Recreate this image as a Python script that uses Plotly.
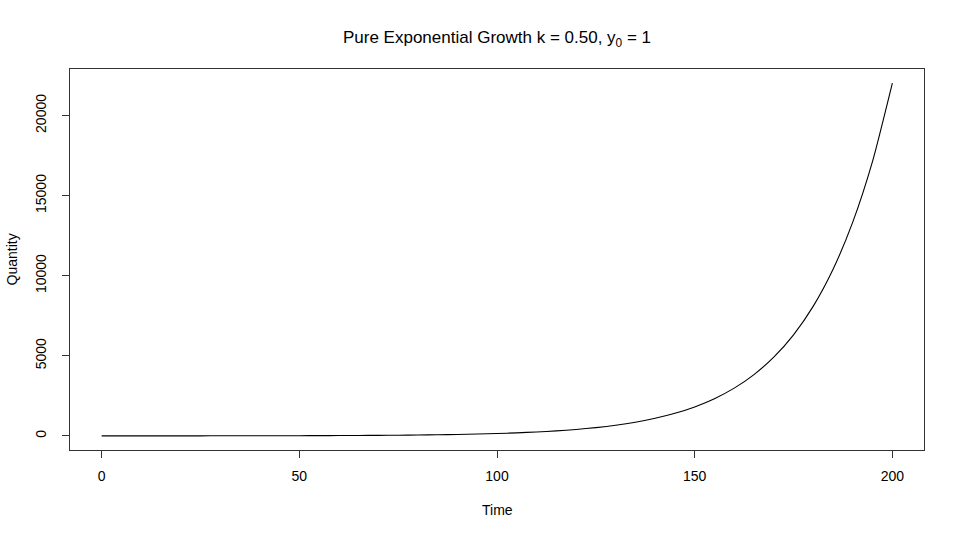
import plotly.graph_objects as go

# Time points and quantity values
time = [0, 5, 10, 15, 20, 25, 30, 35, 40, 45, 50, 55, 60, 65, 70, 75, 80, 85, 90, 95,
        100, 105, 110, 115, 120, 125, 130, 135, 140, 145, 150, 155, 160, 165, 170, 175,
        180, 185, 190, 195, 200]
quantity = [1, 1.28, 1.65, 2.12, 2.72, 3.49, 4.48, 5.75, 7.39, 9.49, 12.2, 15.6, 20.1,
            25.8, 33.1, 42.5, 54.6, 70.1, 90.0, 115.6, 148.4, 190.6, 244.7, 314.2, 403.4,
            518.0, 665.1, 854.1, 1096.6, 1408.1, 1808.0, 2321.6, 2981.0, 3827.6, 4914.8,
            6310.7, 8103.1, 10404.6, 13359.7, 17154.2, 22026.5]

x_ticks = [0, 50, 100, 150, 200]
y_ticks = [0, 5000, 10000, 15000, 20000]

FONT = "Liberation Sans, Arial, Helvetica, sans-serif"
W, H = 960, 537
ML, MR, MT, MB = 70, 36, 69, 87

fig = go.Figure()
fig.add_trace(go.Scatter(x=time, y=quantity, mode="lines",
                         line=dict(color="black", width=1.1, shape="spline", smoothing=0.6),
                         showlegend=False, hoverinfo="skip"))

plot_h = H - MT - MB
fig.update_layout(
    width=W, height=H,
    paper_bgcolor="white", plot_bgcolor="white",
    margin=dict(l=ML, r=MR, t=MT, b=MB, autoexpand=False),
    font=dict(family=FONT, size=14, color="black"),
    title=dict(text="Pure Exponential Growth k = 0.50, y<sub>0</sub> = 1",
               xref="paper", x=0.5, xanchor="center", y=1 - 37 / H, yanchor="middle",
               font=dict(family=FONT, size=17, color="black")),
    annotations=[
        dict(text="Time", xref="paper", yref="paper", x=0.5,
             y=-(510 - (H - MB)) / plot_h,
             xanchor="center", yanchor="middle", showarrow=False,
             font=dict(size=14, family=FONT, color="black")),
        dict(text="Quantity", xref="paper", yref="paper", x=0, y=0.5,
             xanchor="center", yanchor="middle", showarrow=False, textangle=-90,
             xshift=-59, font=dict(size=14, family=FONT, color="black")),
    ],
)

fig.update_xaxes(
    range=[-8, 208], tickvals=x_ticks, ticktext=[str(v) for v in x_ticks],
    showline=True, linecolor="#333333", linewidth=1, mirror=True,
    ticks="outside", ticklen=7, tickcolor="#333333", tickwidth=1,
    showgrid=False, zeroline=False, automargin=False,
    ticklabelstandoff=6,
    tickfont=dict(size=14),
)
fig.update_yaxes(
    range=[-881, 22907], tickvals=y_ticks, ticktext=[str(v) for v in y_ticks],
    showline=True, linecolor="#333333", linewidth=1, mirror=True,
    ticks="outside", ticklen=7, tickcolor="#333333", tickwidth=1,
    showgrid=False, zeroline=False, tickangle=-90, automargin=False,
    ticklabelstandoff=10,
    tickfont=dict(size=14),
)

fig.write_html("out.html", config={"displayModeBar": False, "staticPlot": True})

# remove the browser's default page margin so the figure sits at (0, 0)
with open("out.html", "r", encoding="utf-8") as f:
    html = f.read()
html = html.replace("<body>", '<body style="margin:0;padding:0;">', 1)
with open("out.html", "w", encoding="utf-8") as f:
    f.write(html)
